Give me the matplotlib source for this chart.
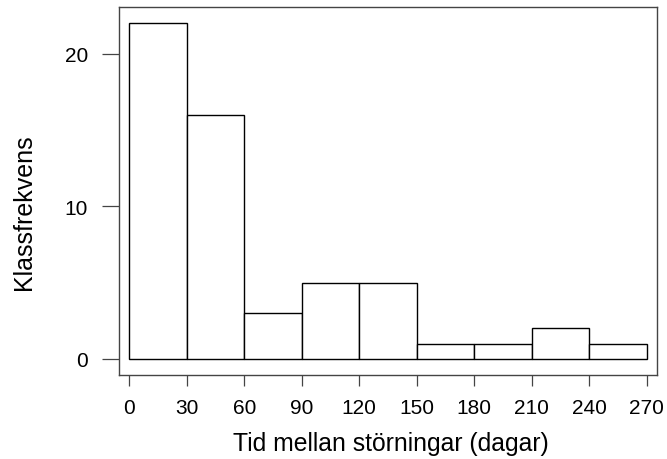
import matplotlib.pyplot as plt

plt.rcParams['font.family'] = ['Liberation Sans', 'DejaVu Sans']

# class edges (days) and counts per class
edges = [0, 30, 60, 90, 120, 150, 180, 210, 240, 270]
counts = [22, 16, 3, 5, 5, 1, 1, 2, 1]
xticks = [0, 30, 60, 90, 120, 150, 180, 210, 240, 270]
yticks = [0, 10, 20]

W, H = 667, 460
fig = plt.figure(figsize=(W / 100, H / 100), dpi=100)
ax = fig.add_axes([119 / W, 1 - 376 / H, (657 - 119) / W, (376 - 8) / H])

widths = [edges[i + 1] - edges[i] for i in range(len(counts))]
ax.bar(edges[:-1], counts, width=widths, align='edge',
       color='white', edgecolor='black', linewidth=1.0)

ax.set_xlim(-5.4, 275.4)
ax.set_ylim(-1.05, 23.08)

for s in ax.spines.values():
    s.set_color('#444444')
    s.set_linewidth(1.0)

ax.set_xticks(xticks)
ax.set_yticks(yticks)
ax.tick_params(axis='x', direction='out', length=8, width=0.9, color='#444444',
               pad=8.5, labelsize=15)
ax.tick_params(axis='y', direction='out', length=12.5, width=0.9, color='#444444',
               pad=10, labelsize=15)

fig.text(391 / W, 1 - 451 / H, 'Tid mellan störningar (dagar)',
         ha='center', va='baseline', fontsize=17.8)
fig.text(24 / W, 1 - 212 / H, 'Klassfrekvens', rotation=90,
         ha='center', va='center', fontsize=18)

fig.savefig('out.png', dpi=100)
